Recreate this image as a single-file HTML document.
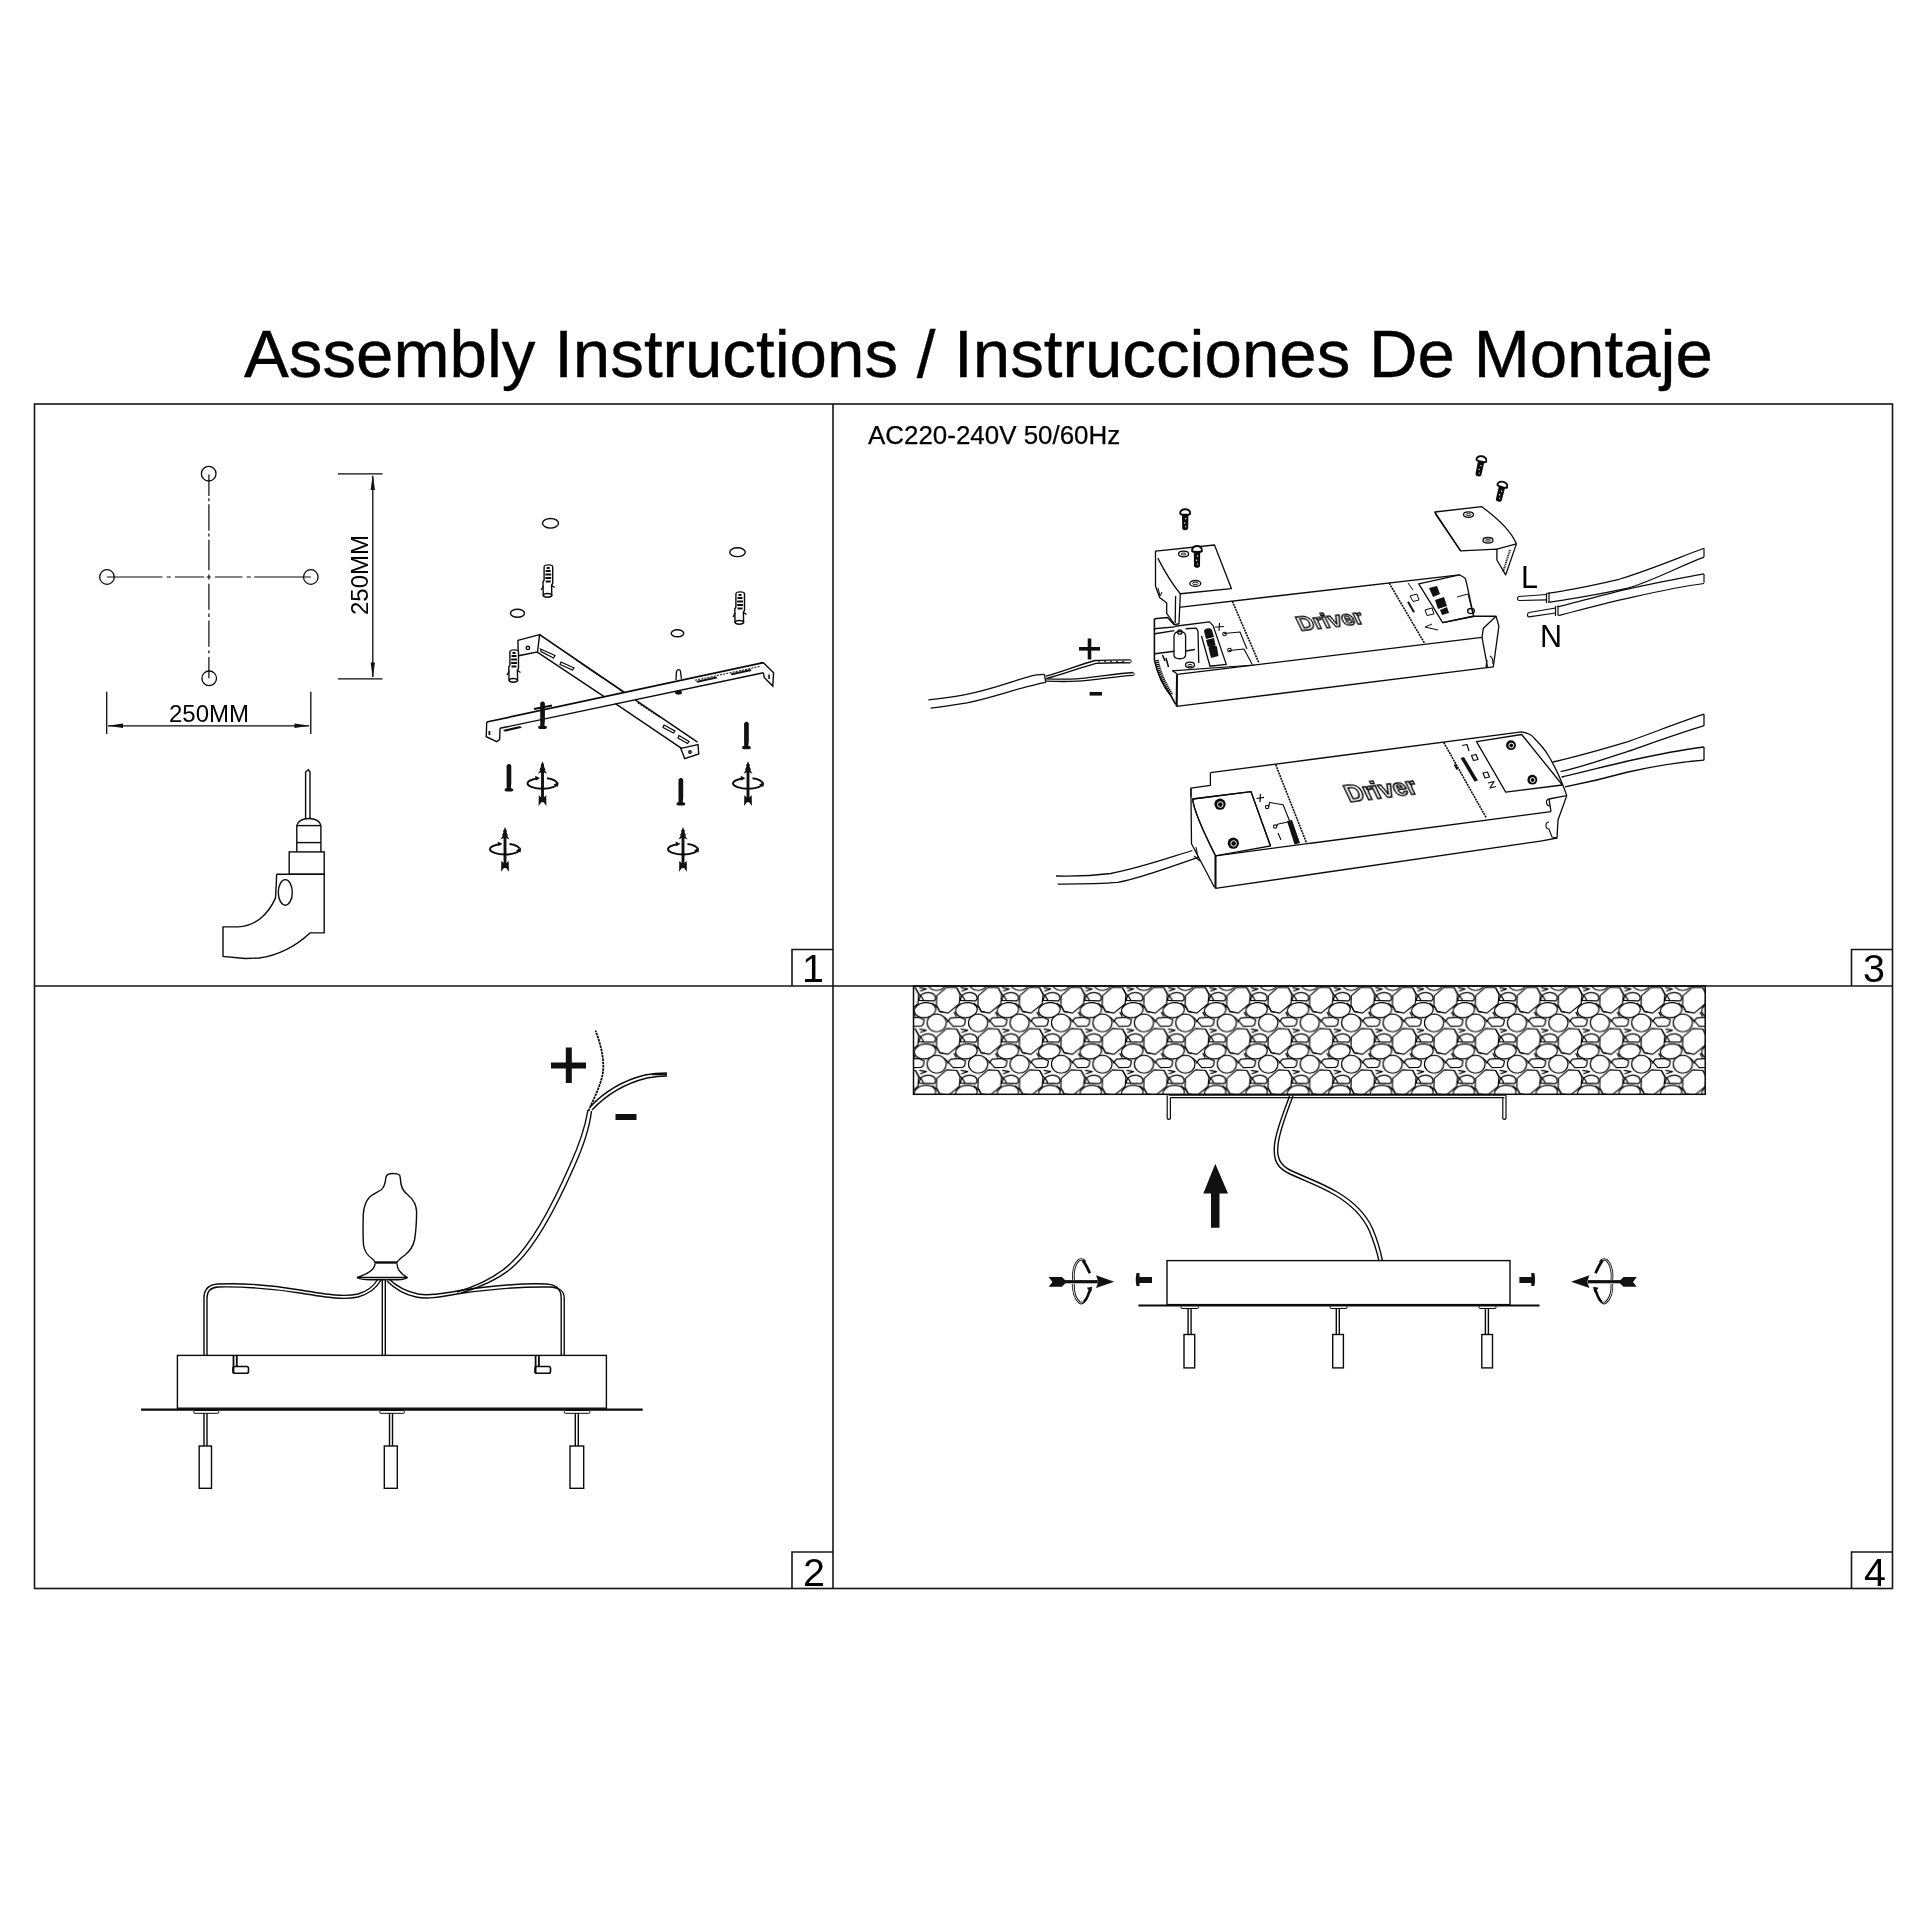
<!DOCTYPE html>
<html><head><meta charset="utf-8">
<style>
html,body{margin:0;padding:0;background:#fff;}
body{width:1920px;height:1920px;position:relative;overflow:hidden;font-family:"Liberation Sans",sans-serif;color:#000;}
.t{position:absolute;white-space:nowrap;line-height:1;will-change:transform;}
svg text{will-change:transform;}
svg{position:absolute;left:0;top:0;}
</style></head><body>
<svg width="1920" height="1920" viewBox="0 0 1920 1920">
<defs>
<g id="screwV">
<path d="M-0.6,-27.4 L0.9,-27.4 L2.4,-26 L2.4,-8 L1.9,-3.4 L4.2,-2.6 L4.4,-0.8 L2.5,0 L-2.5,0 L-4.3,-0.8 L-4.1,-2.7 L-2.2,-3.4 L-2.3,-8 L-2.3,-26 Z" fill="#111"/>
</g>
<g id="rotV">
<rect x="-1.45" y="-19" width="2.9" height="38" fill="#111"/>
<path d="M0,-22 L1.8,-17.5 L1.2,-17 L3.2,-13.5 L2,-13.5 L4.6,-9.5 L0,-11.5 L-4.6,-9.5 L-2,-13.5 L-3.2,-13.5 L-1.2,-17 L-1.8,-17.5 Z" fill="#111"/>
<path d="M-3.7,12 L-1.4,14 L1.4,14 L3.7,12 L3.9,22.7 L0,17.5 L-3.9,22.7 Z" fill="#111"/>
<path d="M-5,-5 C-10,-4 -15,-2.5 -15,0 C-15,3 -8,5.5 0,5.5 C8,5.5 15,3 15,0.3" fill="none" stroke="#0a0a0a" stroke-width="2"/>
<path d="M4.5,-5 C9,-4.5 13,-3 14.5,-0.5" fill="none" stroke="#0a0a0a" stroke-width="2"/>
<path d="M-7.5,-7.5 L-2.5,-5.3 L-6.5,-2.8 Z" fill="#111"/>
<path d="M11,1.5 L16,-1.5 L15.5,3.5 Z" fill="#111"/>
</g>
<g id="plug">
<path d="M-4.1,2 C-4.1,-0.8 4.5,-0.8 4.5,2 L4.5,18.5 L3.4,20 L3.6,30.5 L-5,30 L-5.2,17 L-4.1,15 Z" fill="#fff" stroke="#0a0a0a" stroke-width="1.4"/>
<path d="M-1.5,3 L1.5,3 M-2.5,6 L2.5,6 M-2.8,9.5 L3,9.5 M-2.8,13 L3,13 M-2.5,16.5 L2.5,16.5" stroke="#0a0a0a" stroke-width="2.2"/>
<path d="M-7,25 L-4.8,21 M6.5,22.5 L3.6,20.5" fill="none" stroke="#0a0a0a" stroke-width="1.3"/>
<ellipse cx="-0.7" cy="30.3" rx="4.1" ry="1.9" fill="#fff" stroke="#0a0a0a" stroke-width="1.5"/>
</g>
<g id="rotH">
<rect x="-17" y="-1.6" width="33" height="3.2" fill="#111"/>
<path d="M-33.1,-4.7 L-19.9,-4.7 L-16.3,-1.1 L-16.3,1.5 L-19.9,5.1 L-33.1,5.1 L-29.4,0.2 Z" fill="#111"/>
<path d="M14.2,-6.4 L32.5,0 L14.2,6.4 L16.5,0 Z" fill="#111"/>
<path d="M-8.2,-1.5 C-9,-8 -8,-17 -3,-21.5 C0,-23 2,-22 3.5,-19.5" fill="none" stroke="#0a0a0a" stroke-width="2.6"/>
<path d="M-8.2,-1.5 C-9,-8 -8,-17 -3,-21.5 C0,-23 2,-22 3.5,-19.5" fill="none" stroke="#fff" stroke-width="0.9"/>
<path d="M1,-21 C4,-18 6,-13 8,-8.5" fill="none" stroke="#0a0a0a" stroke-width="2.8"/>
<path d="M-8.2,2.5 C-9,9 -7,17 -2,21 C1,22.5 4,19 6,14 C7,11 8,9 9,7" fill="none" stroke="#0a0a0a" stroke-width="2.6"/>
<path d="M-8.2,2.5 C-9,9 -7,17 -2,21 C-0.5,21.8 0.5,21 1.5,19.5" fill="none" stroke="#fff" stroke-width="0.9"/>
<path d="M5,6 L10.5,5 L9,11 Z" fill="#111"/>
</g>
<pattern id="stone" patternUnits="userSpaceOnUse" x="927.60" y="979.45" width="41.45" height="41.3">
<g fill="none" stroke="#000" stroke-width="1.2" stroke-linejoin="round">
<polygon points="-22.20,-33.55 -12.30,-32.95 -8.90,-26.25 -9.70,-17.05 -20.90,-7.75 -29.20,-9.25 -32.60,-15.80 -32.30,-24.95"/>
<polygon points="-20.65,0.20 -18.45,-2.90 -8.80,-3.50 -3.45,-1.00 -4.45,3.70 -6.30,5.20 -15.95,5.50"/>
<ellipse cx="-32.35" cy="2.15" rx="9.6" ry="8.9"/>
<ellipse cx="-2.60" cy="-10.65" rx="10.8" ry="7.4" transform="rotate(-8 -2.60 -10.65)"/>
<path d="M-8.45,-20.25 C-8.45,-26.05 -3.45,-28.55 1.55,-28.05 C5.55,-27.55 8.05,-25.05 8.05,-22.05 L6.55,-19.85 Z"/>
<polyline points="-12.30,-32.95 -8.45,-26.25 -6.25,-24.40 -3.70,-19.75"/>
<polyline points="-8.35,-33.05 -1.25,-31.85 -7.55,-29.45"/>
<polyline points="-15.10,-8.75 -12.50,-4.25"/>
<polyline points="4.65,-17.65 9.85,-13.20 11.95,-9.30 15.60,-8.75"/>
<polyline points="-24.75,-3.65 -21.95,-1.15 -20.75,1.35"/>
<polygon points="-22.20,7.75 -12.30,8.35 -8.90,15.05 -9.70,24.25 -20.90,33.55 -29.20,32.05 -32.60,25.50 -32.30,16.35"/>
<polygon points="-20.65,41.50 -18.45,38.40 -8.80,37.80 -3.45,40.30 -4.45,45.00 -6.30,46.50 -15.95,46.80"/>
<ellipse cx="-32.35" cy="43.45" rx="9.6" ry="8.9"/>
<ellipse cx="-2.60" cy="30.65" rx="10.8" ry="7.4" transform="rotate(-8 -2.60 30.65)"/>
<path d="M-8.45,21.05 C-8.45,15.25 -3.45,12.75 1.55,13.25 C5.55,13.75 8.05,16.25 8.05,19.25 L6.55,21.45 Z"/>
<polyline points="-12.30,8.35 -8.45,15.05 -6.25,16.90 -3.70,21.55"/>
<polyline points="-8.35,8.25 -1.25,9.45 -7.55,11.85"/>
<polyline points="-15.10,32.55 -12.50,37.05"/>
<polyline points="4.65,23.65 9.85,28.10 11.95,32.00 15.60,32.55"/>
<polyline points="-24.75,37.65 -21.95,40.15 -20.75,42.65"/>
<polygon points="-22.20,49.05 -12.30,49.65 -8.90,56.35 -9.70,65.55 -20.90,74.85 -29.20,73.35 -32.60,66.80 -32.30,57.65"/>
<polygon points="-20.65,82.80 -18.45,79.70 -8.80,79.10 -3.45,81.60 -4.45,86.30 -6.30,87.80 -15.95,88.10"/>
<ellipse cx="-32.35" cy="84.75" rx="9.6" ry="8.9"/>
<ellipse cx="-2.60" cy="71.95" rx="10.8" ry="7.4" transform="rotate(-8 -2.60 71.95)"/>
<path d="M-8.45,62.35 C-8.45,56.55 -3.45,54.05 1.55,54.55 C5.55,55.05 8.05,57.55 8.05,60.55 L6.55,62.75 Z"/>
<polyline points="-12.30,49.65 -8.45,56.35 -6.25,58.20 -3.70,62.85"/>
<polyline points="-8.35,49.55 -1.25,50.75 -7.55,53.15"/>
<polyline points="-15.10,73.85 -12.50,78.35"/>
<polyline points="4.65,64.95 9.85,69.40 11.95,73.30 15.60,73.85"/>
<polyline points="-24.75,78.95 -21.95,81.45 -20.75,83.95"/>
<polygon points="19.25,-33.55 29.15,-32.95 32.55,-26.25 31.75,-17.05 20.55,-7.75 12.25,-9.25 8.85,-15.80 9.15,-24.95"/>
<polygon points="20.80,0.20 23.00,-2.90 32.65,-3.50 38.00,-1.00 37.00,3.70 35.15,5.20 25.50,5.50"/>
<ellipse cx="9.10" cy="2.15" rx="9.6" ry="8.9"/>
<ellipse cx="38.85" cy="-10.65" rx="10.8" ry="7.4" transform="rotate(-8 38.85 -10.65)"/>
<path d="M33.00,-20.25 C33.00,-26.05 38.00,-28.55 43.00,-28.05 C47.00,-27.55 49.50,-25.05 49.50,-22.05 L48.00,-19.85 Z"/>
<polyline points="29.15,-32.95 33.00,-26.25 35.20,-24.40 37.75,-19.75"/>
<polyline points="33.10,-33.05 40.20,-31.85 33.90,-29.45"/>
<polyline points="26.35,-8.75 28.95,-4.25"/>
<polyline points="46.10,-17.65 51.30,-13.20 53.40,-9.30 57.05,-8.75"/>
<polyline points="16.70,-3.65 19.50,-1.15 20.70,1.35"/>
<polygon points="19.25,7.75 29.15,8.35 32.55,15.05 31.75,24.25 20.55,33.55 12.25,32.05 8.85,25.50 9.15,16.35"/>
<polygon points="20.80,41.50 23.00,38.40 32.65,37.80 38.00,40.30 37.00,45.00 35.15,46.50 25.50,46.80"/>
<ellipse cx="9.10" cy="43.45" rx="9.6" ry="8.9"/>
<ellipse cx="38.85" cy="30.65" rx="10.8" ry="7.4" transform="rotate(-8 38.85 30.65)"/>
<path d="M33.00,21.05 C33.00,15.25 38.00,12.75 43.00,13.25 C47.00,13.75 49.50,16.25 49.50,19.25 L48.00,21.45 Z"/>
<polyline points="29.15,8.35 33.00,15.05 35.20,16.90 37.75,21.55"/>
<polyline points="33.10,8.25 40.20,9.45 33.90,11.85"/>
<polyline points="26.35,32.55 28.95,37.05"/>
<polyline points="46.10,23.65 51.30,28.10 53.40,32.00 57.05,32.55"/>
<polyline points="16.70,37.65 19.50,40.15 20.70,42.65"/>
<polygon points="19.25,49.05 29.15,49.65 32.55,56.35 31.75,65.55 20.55,74.85 12.25,73.35 8.85,66.80 9.15,57.65"/>
<polygon points="20.80,82.80 23.00,79.70 32.65,79.10 38.00,81.60 37.00,86.30 35.15,87.80 25.50,88.10"/>
<ellipse cx="9.10" cy="84.75" rx="9.6" ry="8.9"/>
<ellipse cx="38.85" cy="71.95" rx="10.8" ry="7.4" transform="rotate(-8 38.85 71.95)"/>
<path d="M33.00,62.35 C33.00,56.55 38.00,54.05 43.00,54.55 C47.00,55.05 49.50,57.55 49.50,60.55 L48.00,62.75 Z"/>
<polyline points="29.15,49.65 33.00,56.35 35.20,58.20 37.75,62.85"/>
<polyline points="33.10,49.55 40.20,50.75 33.90,53.15"/>
<polyline points="26.35,73.85 28.95,78.35"/>
<polyline points="46.10,64.95 51.30,69.40 53.40,73.30 57.05,73.85"/>
<polyline points="16.70,78.95 19.50,81.45 20.70,83.95"/>
<polygon points="60.70,-33.55 70.60,-32.95 74.00,-26.25 73.20,-17.05 62.00,-7.75 53.70,-9.25 50.30,-15.80 50.60,-24.95"/>
<polygon points="62.25,0.20 64.45,-2.90 74.10,-3.50 79.45,-1.00 78.45,3.70 76.60,5.20 66.95,5.50"/>
<ellipse cx="50.55" cy="2.15" rx="9.6" ry="8.9"/>
<ellipse cx="80.30" cy="-10.65" rx="10.8" ry="7.4" transform="rotate(-8 80.30 -10.65)"/>
<path d="M74.45,-20.25 C74.45,-26.05 79.45,-28.55 84.45,-28.05 C88.45,-27.55 90.95,-25.05 90.95,-22.05 L89.45,-19.85 Z"/>
<polyline points="70.60,-32.95 74.45,-26.25 76.65,-24.40 79.20,-19.75"/>
<polyline points="74.55,-33.05 81.65,-31.85 75.35,-29.45"/>
<polyline points="67.80,-8.75 70.40,-4.25"/>
<polyline points="87.55,-17.65 92.75,-13.20 94.85,-9.30 98.50,-8.75"/>
<polyline points="58.15,-3.65 60.95,-1.15 62.15,1.35"/>
<polygon points="60.70,7.75 70.60,8.35 74.00,15.05 73.20,24.25 62.00,33.55 53.70,32.05 50.30,25.50 50.60,16.35"/>
<polygon points="62.25,41.50 64.45,38.40 74.10,37.80 79.45,40.30 78.45,45.00 76.60,46.50 66.95,46.80"/>
<ellipse cx="50.55" cy="43.45" rx="9.6" ry="8.9"/>
<ellipse cx="80.30" cy="30.65" rx="10.8" ry="7.4" transform="rotate(-8 80.30 30.65)"/>
<path d="M74.45,21.05 C74.45,15.25 79.45,12.75 84.45,13.25 C88.45,13.75 90.95,16.25 90.95,19.25 L89.45,21.45 Z"/>
<polyline points="70.60,8.35 74.45,15.05 76.65,16.90 79.20,21.55"/>
<polyline points="74.55,8.25 81.65,9.45 75.35,11.85"/>
<polyline points="67.80,32.55 70.40,37.05"/>
<polyline points="87.55,23.65 92.75,28.10 94.85,32.00 98.50,32.55"/>
<polyline points="58.15,37.65 60.95,40.15 62.15,42.65"/>
<polygon points="60.70,49.05 70.60,49.65 74.00,56.35 73.20,65.55 62.00,74.85 53.70,73.35 50.30,66.80 50.60,57.65"/>
<polygon points="62.25,82.80 64.45,79.70 74.10,79.10 79.45,81.60 78.45,86.30 76.60,87.80 66.95,88.10"/>
<ellipse cx="50.55" cy="84.75" rx="9.6" ry="8.9"/>
<ellipse cx="80.30" cy="71.95" rx="10.8" ry="7.4" transform="rotate(-8 80.30 71.95)"/>
<path d="M74.45,62.35 C74.45,56.55 79.45,54.05 84.45,54.55 C88.45,55.05 90.95,57.55 90.95,60.55 L89.45,62.75 Z"/>
<polyline points="70.60,49.65 74.45,56.35 76.65,58.20 79.20,62.85"/>
<polyline points="74.55,49.55 81.65,50.75 75.35,53.15"/>
<polyline points="67.80,73.85 70.40,78.35"/>
<polyline points="87.55,64.95 92.75,69.40 94.85,73.30 98.50,73.85"/>
<polyline points="58.15,78.95 60.95,81.45 62.15,83.95"/>
</g></pattern>
<g id="screwT">
<path d="M-3.2,2 L3.2,2 L3,15 C3,17.5 -3,17.5 -3,15 Z" fill="#0a0a0a"/>
<circle cx="0.6" cy="6" r="0.7" fill="#fff"/><circle cx="-0.4" cy="10" r="0.7" fill="#fff"/><circle cx="0.5" cy="13.5" r="0.6" fill="#fff"/>
<path d="M-5,1.2 C-5.5,-2.2 -2,-3.2 0,-3.2 C2,-3.2 5.5,-2.2 5,1.2 C4,2.6 -4,2.6 -5,1.2 Z" fill="#fff" stroke="#0a0a0a" stroke-width="1.9"/>
</g>
</defs>
<g fill="none" stroke="#151515" stroke-width="1.6">
<rect x="34.5" y="404" width="1858" height="1184.5"/>
<line x1="833" y1="404" x2="833" y2="1588.5"/>
<line x1="34.5" y1="986" x2="1892.5" y2="986"/>
<polyline points="792,986 792,949.5 833,949.5"/>
<polyline points="1851.5,986 1851.5,949.5 1892.5,949.5"/>
<polyline points="792,1588.5 792,1552 833,1552"/>
<polyline points="1851.5,1588.5 1851.5,1552 1892.5,1552"/>
</g>
<g fill="none" stroke="#0a0a0a" stroke-width="1.3">
<circle cx="208.7" cy="473.7" r="7.3"/>
<circle cx="107" cy="577" r="7.3"/>
<circle cx="310.8" cy="577" r="7.3"/>
<circle cx="209.2" cy="678.3" r="7.3"/>
<path stroke-width="1.2" d="M107,577H162.5M166.7,577H170.8M175,577H204.2M206.7,577H210.8M215,577H242.5M246.7,577H250.8M254.2,577H310.8"/>
<path stroke-width="1.2" d="M208.9,474.4V495.9M208.9,498.3V501.3M208.9,504.3V530.7M208.9,533.6V536.6M208.9,539.7V570.2M208.9,574.5V579.5M208.9,583.8V609.7M208.9,613.4V616.9M208.9,620.5V646.8M208.9,650.5V653.3M208.9,656.9V678.3"/>
<line x1="338" y1="473.8" x2="382.5" y2="473.8"/>
<line x1="338" y1="678.8" x2="382.5" y2="678.8"/>
<line x1="372.8" y1="476" x2="372.8" y2="677"/>
<line x1="106.7" y1="691.7" x2="106.7" y2="734"/>
<line x1="310.8" y1="691.7" x2="310.8" y2="734"/>
<line x1="108" y1="725.8" x2="309" y2="725.8"/>
</g>
<g fill="#111">
<path d="M372.8,474.5 L375,490 L370.6,490 Z"/>
<path d="M372.8,678 L375,662.5 L370.6,662.5 Z"/>
<path d="M107.5,725.8 L123,723.6 L123,728 Z"/>
<path d="M310,725.8 L294.5,723.6 L294.5,728 Z"/>
</g>
<g fill="none" stroke="#0a0a0a" stroke-width="1.4">
<path d="M305.6,818.5 L305.6,772 L308.3,769.8 L310,772 L310,818.5"/>
<path d="M296.8,851.9 L296.8,825.6 C298,821 303,818.5 308.9,818.5 C314.8,818.5 319.8,821 320.9,825.6 L320.9,851.9"/>
<line x1="296.8" y1="825.6" x2="320.9" y2="825.6"/>
<line x1="296.8" y1="842.6" x2="320.9" y2="842.6"/>
<rect x="289.2" y="851.9" width="35" height="22.4"/>
<path d="M276.6,874.3 L324.2,874.3 L324.2,932.9 L310,932.9 C297,945 280,955 259,958 L245,958.5 L223,956.4 L223,926.9 L238.3,926.9 C255,926 268,915 275.5,897.9 C276,890 276.5,882 276.6,874.3"/>
<ellipse cx="285.3" cy="892.4" rx="7" ry="12.8"/>
</g>
<g fill="none" stroke="#0a0a0a" stroke-width="1.4">
<ellipse cx="550.5" cy="523.3" rx="8" ry="4.8"/>
<ellipse cx="737.5" cy="552.2" rx="7.8" ry="4.4"/>
<ellipse cx="517.5" cy="613.3" rx="7" ry="4"/>
<ellipse cx="677.5" cy="633.3" rx="6.3" ry="3.5"/>
<!-- bracket A -->
<path d="M517.9,640.4 L539.6,634.6 L537.5,652 L518.3,655.8 Z"/>
<circle cx="527.9" cy="647.9" r="1.7"/>
<path d="M539.6,634.6 L624.5,692.5" stroke-width="1.7"/>
<path d="M537.3,652.1 L604.5,696.8"/>
<path d="M575.8,660 L602.5,678.3" stroke-width="1" stroke-dasharray="2 1"/>
<path d="M635.2,699.8 L697.5,742.2" stroke-width="1.5"/>
<path d="M615.4,703.7 L681.6,748.4"/>
<path d="M637.8,703.1 L659.7,717.2" stroke-width="1" stroke-dasharray="2 1"/>
<path d="M680.8,748.4 L698,744.5 L698.75,753.9 L684.7,758.6 Z"/>
<circle cx="690" cy="752" r="1.2"/>
<path d="M540.5,649 L555,655.5 L553.5,658 L541,651.5 Z" stroke-width="1.2"/>
<path d="M561,662 L574,668 L572.5,670 L560,664.5 Z" stroke-width="1.2"/>
<path d="M664,725 L675,731 L673.5,733 L663,727.5 Z" stroke-width="1.2"/>
<path d="M679,735.5 L689,741.5 L687.5,743.5 L678,738 Z" stroke-width="1.2"/>
<!-- bracket B -->
<path d="M486.7,722 L763.4,662.7" stroke-width="1.7"/>
<path d="M500,728.3 L763.4,672.8"/>
<path d="M695,680.2 L760,666.4" stroke-width="1" stroke-dasharray="2 1.2"/>
<path d="M486.7,722 L486.25,736.7 L496.7,741.7 L499.6,739.6 L500,728.3"/>
<path d="M760.3,662.7 L763.4,662.7 L773.6,672.8 L772.8,686.1 L764.2,677.5 L763.4,672.8"/>
</g>
<g fill="#111">
<rect x="488.5" y="731" width="1.8" height="4"/>
<rect x="768.3" y="674.5" width="1.6" height="4.5"/>
<path d="M503,730 L520,726 L522,727.7 L505,731.8 Z"/>
<path d="M696,681 L716,676.5 L717.5,678.3 L697.5,682.8 Z"/>
<path d="M730.5,673.5 L750.5,669 L751.5,671 L731.5,675.3 Z"/>
</g>
<use href="#plug" x="548.2" y="565"/>
<use href="#plug" x="740" y="592"/>
<use href="#plug" x="514" y="650"/>
<g fill="none" stroke="#0a0a0a" stroke-width="1.3">
<path d="M676,680 L676.5,671.5 C677.5,669 680,669 680.5,671.5 L681.4,679"/>
</g>
<ellipse cx="678.5" cy="692.5" rx="3.5" ry="2" fill="#111"/>
<use href="#screwV" x="508.9" y="791.5"/>
<use href="#screwV" x="680.8" y="805.5"/>
<use href="#screwV" x="746.4" y="749.2"/>
<use href="#screwV" x="542.5" y="729"/>
<path d="M534,709 L552,705.5" stroke="#0a0a0a" stroke-width="2"/>
<use href="#rotV" x="542.5" y="783.2"/>
<use href="#rotV" x="748" y="783.2"/>
<use href="#rotV" x="505" y="849"/>
<use href="#rotV" x="683" y="849"/>
<g fill="none" stroke="#0a0a0a" stroke-width="1.4">
<rect x="177.4" y="1355.4" width="429" height="52.8"/>
<path d="M233.5,1356 V1373 M236.8,1356 V1366.5" stroke-width="1.8"/>
<rect x="233" y="1366.5" width="15.5" height="6.8" rx="1.8" stroke-width="1.6"/>
<path d="M535.6,1356 V1373 M538.9,1356 V1366.5" stroke-width="1.8"/>
<rect x="535" y="1366.5" width="15.5" height="6.8" rx="1.8" stroke-width="1.6"/>
<!-- rods under -->
<path d="M204,1412.7 V1446 M207,1412.7 V1446"/>
<path d="M389.5,1412.7 V1446 M392.5,1412.7 V1446"/>
<path d="M575.3,1412.7 V1446 M578.3,1412.7 V1446"/>
<rect x="199.2" y="1446" width="12.3" height="42.3"/>
<rect x="384.3" y="1446" width="13" height="42.3"/>
<rect x="570" y="1446" width="13.7" height="42.3"/>
<!-- verticals up from box -->
<path d="M204,1355.4 V1298 C204,1289 209,1284.5 218,1284 C240,1283 270,1285 300,1290 C330,1295 345,1297 358,1294 C368,1291 374,1286 378,1279"/>
<path d="M207,1355.4 V1298 C207,1291 211,1287.5 218,1287 C240,1286.5 270,1288.5 300,1293 C330,1298 345,1300 358,1297 C369,1294 376,1289 381,1280"/>
<path d="M561.2,1355.4 V1298 C561.2,1289 556,1284.5 546,1284 C520,1283 490,1286 460,1290.5 C440,1294 428,1296 418,1294 C405,1291 396,1286 389,1279"/>
<path d="M564.2,1355.4 V1298 C564.2,1291 560,1287.5 549,1287 C520,1286.5 492,1289 460,1293.5 C440,1297 428,1299.5 416,1297 C404,1294.5 395,1289 387,1281"/>
<path d="M382.3,1279.8 V1355.4 M385.3,1279.8 V1355.4"/>
<!-- canopy -->
<path d="M393,1173.5 C389,1173.5 386.5,1174.5 386,1177 C385.5,1182 385,1187 381,1190 C376,1193 371,1195 369.2,1197.5 C366,1201 364,1207 363.3,1214 C363,1224 363,1238 363.5,1245 C364.5,1251 368,1256 372,1258.5 C374,1260 375,1261.5 375,1262.5 L397,1262.5 C398,1260 401,1258 405,1255 C410,1251 413,1247 414.5,1240 C416,1232 416.5,1222 416.6,1212 C416.5,1205 414,1200 408,1195 C404,1192 402,1189 401,1184 C400.5,1180 400.3,1176 399.5,1175 C398,1173.8 396,1173.5 393,1173.5 Z"/>
<path d="M375,1262.5 L397,1262.5" stroke-width="2.2"/>
<path d="M375,1263.5 C375,1269 368,1274 357,1277.5 L407.5,1277.5 C401,1274 397,1269 397,1263.5"/>
<path d="M357,1277.5 C360,1279.5 364,1279.8 370,1279.8 L398,1279.8 C403,1279.8 405.5,1279 407.5,1277.5"/>
<!-- cable -->
<path d="M457,1292 C480,1285 498,1276 512,1262 C530,1245 548,1215 570,1165 C580,1143 586,1122 588,1110"/>
<path d="M461,1293 C484,1286 502,1278 516,1264 C534,1247 552,1217 574,1167 C584,1145 590,1124 591.5,1111"/>
<path d="M588.5,1111 C594,1098 601,1085 603,1072 C604.5,1058 600,1042 595.5,1030.6" stroke-width="1.8" stroke-dasharray="2.5 0.8"/>
<path d="M590,1107 C605,1091 625,1080 645,1075 C655,1073 660,1073 667,1073"/>
<path d="M592,1110 C607,1094 627,1083 647,1078 C657,1076 660,1076 667,1076"/>
<path d="M652,1074.5 H667"/>
</g>
<path d="M141.1,1409.7 H642.7" stroke="#0a0a0a" stroke-width="2.2"/>
<g fill="#fff" stroke="#0a0a0a" stroke-width="1">
<rect x="193.8" y="1410.5" width="25" height="2.8" rx="1"/>
<rect x="379.8" y="1410.5" width="24.5" height="2.8" rx="1"/>
<rect x="564.3" y="1410.5" width="25.5" height="2.8" rx="1"/>
</g>
<g fill="#111">
<rect x="551" y="1062.5" width="35" height="6"/>
<rect x="565.8" y="1047.5" width="6" height="35.5"/>
<rect x="615.5" y="1114" width="21" height="6"/>
</g>
<!-- ===== Panel 3 ===== -->
<g fill="none" stroke="#0a0a0a" stroke-width="1.3" stroke-linejoin="round">
<!-- left cable (upper driver) -->
<path d="M928.4,699.9 C940,698.5 952,697 964.2,694.8 C990,690 1010,682 1031.3,675.8 C1036,674.8 1040,674.6 1044.4,674.4"/>
<path d="M930.6,708.2 C942,706.8 954,705 967.1,702.8 C995,697 1015,689 1035.6,684.6 C1039,683.6 1042,683 1045.8,682.4"/>
<path d="M1044.4,674.4 L1045.8,682.4"/>
<path d="M1045.8,676.2 C1062,672 1080,664.5 1095,660.5 C1105,659.8 1118,659.8 1130.4,659.8"/>
<path d="M1045.8,678.6 C1062,675 1080,667.5 1096,663.3 C1106,662.7 1118,662.7 1130.4,662.8"/>
<path d="M1130.4,659.8 C1131.5,660.5 1131.5,662.2 1130.4,662.8" stroke-width="1"/>
<path d="M1046,678.8 C1060,679.2 1075,679.5 1086.7,677.8 C1100,676.5 1118,673.5 1133.3,672.5"/>
<path d="M1046,681.2 C1060,681.6 1075,682 1087,680.4 C1100,679.2 1118,676.2 1133.3,675.4"/>
<path d="M1133.3,672.5 C1134.5,673.3 1134.5,674.8 1133.3,675.4" stroke-width="1"/>
<path d="M1098,661.5 L1100,662 M1104,661.2 L1106,661.7 M1110,661.2 L1112,661.6 M1116,661.2 L1118,661.6 M1122,661.2 L1124,661.6" stroke-width="0.9"/>
</g>
<g fill="#111">
<rect x="1079" y="647" width="21" height="3.6"/>
<rect x="1087.7" y="638.5" width="3.6" height="21"/>
<rect x="1089.6" y="692" width="12.4" height="3.6"/>
</g>

<!-- upper driver box -->
<g fill="none" stroke="#0a0a0a" stroke-width="1.3" stroke-linejoin="round">
<!-- front face -->
<path d="M1177,674.4 L1482,637.3 M1176.6,706.4 L1487,667.6 M1177,674.4 L1176.6,706.4"/>
<path d="M1177,674.4 L1176.6,706.4" stroke-width="2"/>
<!-- back edge -->
<path d="M1178.9,607.3 L1459.5,574.8"/>
<!-- dividers -->
<path d="M1232.3,601.25 L1258.6,662.2" stroke-width="1.6" stroke-dasharray="2 0.8"/>
<path d="M1389.2,583.2 L1424.4,643" stroke-width="1.6" stroke-dasharray="2 0.8"/>
<!-- left end -->
<path d="M1154.4,618.75 L1167.5,617.5 L1174.4,625"/>
<path d="M1154.4,618.75 L1154.4,660 C1157,672 1163,686 1171.25,696.25 L1175.6,704.4" stroke-width="1.6"/>
<path d="M1157,660 C1159.5,672 1164.5,684 1172,695" stroke-width="3.4" stroke-dasharray="1.3 0.7"/>
<path d="M1153.75,628.75 L1175,626.9 M1155,633.75 L1174.4,630.6"/>
<path d="M1175,626.25 L1209.4,621.9 L1213.1,625.6 L1226.25,664.4 L1210,666.25 L1201.5,636"/>
<path d="M1185.6,628.75 L1196.25,628.1 L1198,631.25 L1198.75,663"/>
<path d="M1174,636 C1174,630 1185.6,630 1185.6,636 L1185.6,655 C1185.6,660 1174,660 1174,655 Z"/>
<circle cx="1179.8" cy="632" r="2.2"/>
<path d="M1155,653.75 L1174.4,651.25 M1185.6,651 L1195,649.5"/>
<path d="M1162.5,655 L1165,661 M1166,658 L1168.5,667" stroke-width="1.5"/>
<ellipse cx="1190" cy="665" rx="4.5" ry="2.8"/>
<ellipse cx="1190" cy="665.5" rx="2" ry="1.2" stroke-width="1"/>
<path d="M1171.9,670.9 L1254.4,665" stroke-width="1.1"/>
<path d="M1173,671 L1176.9,673.75"/>
<!-- labels small -->
<path d="M1215,627 L1224,626.5 M1219.5,623 L1219,631" stroke-width="1.1"/>
<path d="M1224,633.5 L1240,632 L1247,649 M1229,650.5 L1244,649 L1252,664" stroke-width="1.1"/>
<circle cx="1224.5" cy="634" r="1.8" stroke-width="1.1"/>
<circle cx="1229.5" cy="650" r="1.8" stroke-width="1.1"/>
<!-- right terminal block -->
<path d="M1418.75,583.9 L1459.5,574.8 L1465.2,578.3 L1466.6,583.2 L1473.6,616.25 L1442.7,622.6 Z"/>
<path d="M1442.7,622.6 L1473.6,616.25 L1496.1,616.25 L1498.9,626.1 L1493.3,666.9 L1487.6,667.6 L1482,637.3 L1483.4,628.2 L1496.1,616.25"/>
<path d="M1487,660 L1486,667 M1490,656 C1492,657 1493,660 1493,664" stroke-width="1.2"/>
<path d="M1457,597 L1468,594 L1473,614" stroke-width="1"/>
<ellipse cx="1471" cy="611" rx="3.4" ry="2.5"/>
<path d="M1408,583 L1413,590 M1410,596 L1417,594 L1419,600 L1413,601.5 Z M1425,610 L1432,608 L1434,614 L1427,615.5 Z M1432,624 L1425,627 L1438,630" stroke-width="1"/>
</g>
<g fill="#111">
<path d="M1429,588 L1437,586 L1440,594 L1433,597 Z"/>
<path d="M1435,600 L1444,597 L1447,606 L1438,609 Z"/>
<path d="M1440,610 L1447,607 L1449,613 L1442,615 Z"/>
<path d="M1204,631 C1204,628 1211,627 1212,630 L1214,637 L1206,639 Z"/>
<path d="M1206,640 L1214,638 L1215.5,645 L1208,647 Z"/>
<path d="M1208.5,648 C1209,645 1216,644 1217,647 L1218.5,656 L1211,658 Z"/>
<rect x="1410" y="601" width="2" height="12" transform="rotate(-30 1411 607)"/>
</g>
<text x="0" y="0" transform="translate(1300.5,631) rotate(-6.5) scale(1.08,1) skewX(18)" font-family="Liberation Sans" font-weight="bold" font-size="21" fill="#fff" stroke="#000" stroke-width="1.25">Driver</text>

<!-- left cover on upper driver -->
<g fill="#fff" stroke="#0a0a0a" stroke-width="1.3" stroke-linejoin="round">
<path d="M1155.5,551.1 L1214.5,545 L1231.4,588.6 L1180.3,593.75 L1179,623.75 L1174.7,624.7 L1166.7,613.4 L1166.7,603.1 L1159.7,597.5 L1155.5,586.25 Z"/>
<path d="M1157.8,558.1 C1165,572 1172,584 1180.3,593.75" fill="none"/>
<path d="M1175.6,596 L1175.2,623" fill="none"/>
<path d="M1158,588 L1160,596 L1162,592" fill="none" stroke-width="1"/>
<ellipse cx="1183.6" cy="554" rx="5" ry="2.8"/>
<ellipse cx="1183.6" cy="554" rx="2.5" ry="1" fill="none" stroke-width="0.9"/>
<ellipse cx="1195.3" cy="583.4" rx="5.5" ry="2.9"/>
<ellipse cx="1195.3" cy="583.4" rx="3" ry="1.1" fill="none" stroke-width="0.9"/>
</g>
<!-- screws upper -->
<use href="#screwT" transform="translate(1185.2,512.5) scale(1,1.05)"/>
<use href="#screwT" transform="translate(1481.6,459.5) rotate(12) scale(1,1.02)"/>
<use href="#screwT" transform="translate(1502.5,485) rotate(14) scale(1,1.02)"/>
<use href="#screwT" transform="translate(1197,549.5) scale(1,1.08)"/>
<!-- right detached cover -->
<g fill="#fff" stroke="#0a0a0a" stroke-width="1.3" stroke-linejoin="round">
<path d="M1434.9,512 L1481.8,506.7 C1500,520 1512,533 1516.4,543.9 L1505.7,574.8 L1496.9,560 L1496.9,549.2 L1460.6,550.9 Z"/>
<path d="M1434.9,512 L1436,515 L1460.6,550.9" fill="none"/>
<path d="M1496.9,549.2 L1516.4,543.9" fill="none"/>
<path d="M1510,550 L1503,572" fill="none" stroke-width="2" stroke-dasharray="1 0.8"/>
<ellipse cx="1468.5" cy="514.6" rx="5" ry="2.8"/>
<ellipse cx="1468.5" cy="514.6" rx="2.5" ry="1" fill="none" stroke-width="0.9"/>
<ellipse cx="1488" cy="540.3" rx="5" ry="2.8"/>
<ellipse cx="1488" cy="540.3" rx="2.5" ry="1" fill="none" stroke-width="0.9"/>
</g>
<!-- L / N wires -->
<g fill="none" stroke="#0a0a0a" stroke-width="1.2" stroke-linejoin="round">
<path d="M1547.3,593.4 C1570,590 1595,585 1619,579.3 C1650,570 1680,557 1704,548.3"/>
<path d="M1548.2,602.3 C1572,599 1600,594 1628,588.1 C1655,580 1680,566 1704,557.1"/>
<path d="M1704,548.3 L1704,557.1"/>
<path d="M1546.5,593 L1546.5,603 M1549,592.5 L1549,602"/>
<path d="M1546.5,594.5 L1519,596.5 C1517,596.8 1517,600.5 1519,600.5 L1546.5,599.8"/>
<path d="M1557.3,607 C1580,601.5 1605,594 1631.8,588.1 C1660,582 1685,577 1704,573.8"/>
<path d="M1558.4,615.6 C1580,610 1605,603 1631.8,597.3 C1660,591 1685,586 1704,583.5"/>
<path d="M1704,574 L1704,582.8"/>
<path d="M1555.5,606 L1555.5,616 M1558,605.5 L1558,615.5"/>
<path d="M1555.5,608 L1529,612.5 C1527,613 1527,617 1529,616.8 L1555.5,613"/>
</g>

<!-- ===== lower driver ===== -->
<g fill="none" stroke="#0a0a0a" stroke-width="1.3" stroke-linejoin="round">
<!-- cable left -->
<path d="M1056,876 C1075,876.5 1095,875.5 1110.8,873.5 C1140,868 1165,859 1192.3,850.5"/>
<path d="M1057.7,884.1 C1078,884 1098,884 1117.9,882.4 C1145,877 1172,866 1197.6,857.6"/>
<!-- box outline -->
<path d="M1210.4,772.7 L1521.6,731.9 C1528,733 1532,735 1534,738 C1540,744 1545,750 1548,755 C1556,768 1562,782 1566.8,795.6"/>
<path d="M1210.4,772.7 L1210.4,785.3 L1190.9,788.2 L1190.9,796.8"/>
<path d="M1190.9,788.2 L1191.5,843.75 L1214.4,887.3"/>
<path d="M1192.6,799 C1194,812 1205,835 1215.5,855.8"/>
<path d="M1215.5,855.8 L1551,811.6"/>
<path d="M1215.5,888.4 L1542,840.8"/>
<path d="M1215.5,855.8 L1215.5,888.4"/>
<path d="M1215.5,855.8 L1215.5,888.4" stroke-width="1.9"/>
<path d="M1192.6,799 L1251,791.6 L1270.5,846"/>
<path d="M1196,847 L1198,858 M1194,856 L1200,861" stroke-width="1.1"/>
<!-- right end -->
<path d="M1566.8,795.6 L1549,799 L1551,811.6"/>
<path d="M1566.8,795.6 L1558,820 L1557,838 L1542,840.8"/>
<path d="M1549,822 C1545,822 1545,829 1549,829 L1552,837 L1557,838" stroke-width="1.1"/>
<path d="M1549,799 C1545,800 1546,806 1550,806" stroke-width="1.1"/>
<!-- cover plate right -->
<path d="M1476.5,741.6 L1521.7,734.5 L1562.4,785 L1505.7,792.1 Z"/>
<!-- dividers -->
<path d="M1275.7,764.7 L1306.6,843.2" stroke-width="1.6" stroke-dasharray="2 0.8"/>
<path d="M1443.75,742.5 L1486.25,817.8" stroke-width="1.6" stroke-dasharray="2 0.8"/>
<!-- small labels -->
<path d="M1256.5,798.5 L1264,797.3 M1260.5,794 L1260,802" stroke-width="1.2"/>
<circle cx="1267.1" cy="807.1" r="1.7" stroke-width="1.1"/>
<circle cx="1275.1" cy="826.6" r="1.7" stroke-width="1.1"/>
<path d="M1269,806.5 L1269.4,802.5 L1283.1,804.7 L1290,822 M1277,826 L1277.4,824.3 L1290,821.5 M1278,833 L1281,840" stroke-width="1.1"/>
<path d="M1462,745.5 L1467,744.5 L1469,751 M1471.5,755.5 L1476,754.5 L1478,759.5 L1473.5,760.5 Z M1483,773 L1487.5,772 L1489.5,777 L1485,778 Z M1488,783 L1494,781.5 L1490,788 L1496,786.5" stroke-width="1.2"/>
<!-- right wires -->
<path d="M1552.7,762 C1575,757 1600,750 1628,741.6 C1655,732 1680,722 1704,714.2"/>
<path d="M1560.6,771.7 C1585,766 1605,759 1628,751.4 C1655,742 1680,733 1704,725.7"/>
<path d="M1704,714.2 L1704,725.7"/>
<path d="M1561.5,777 C1585,772 1605,766 1628,761 C1655,755 1680,750 1704,747"/>
<path d="M1565,786.8 C1590,782 1610,777 1628,772 C1655,766 1680,762 1704,760.2"/>
<path d="M1704,747 L1704,760.2"/>
</g>
<g fill="#fff" stroke="#0a0a0a" stroke-width="1.3">
<path d="M1192.6,799 L1251,791.6 L1270.5,846 L1215.5,855.8 C1205,835 1194,812 1192.6,799 Z" fill="none"/>
</g>
<g fill="#111">
<path d="M1287,821 L1292,820 L1300,843 L1294.5,844.5 Z"/>
<path d="M1460.5,758 L1464,757 L1478,780.5 L1474.5,781.5 Z"/>
<rect x="1455" y="764" width="2" height="6" transform="rotate(-30 1456 767)"/>
</g>
<!-- screws on lower driver -->
<g fill="#0a0a0a">
<circle cx="1220" cy="804.2" r="5.6"/>
<circle cx="1233.3" cy="843.2" r="5.6"/>
<circle cx="1511" cy="745.2" r="4.9"/>
<circle cx="1532.3" cy="779.7" r="4.9"/>
</g>
<g fill="none" stroke="#fff" stroke-width="1">
<circle cx="1220.3" cy="804.5" r="2.8"/>
<circle cx="1233.6" cy="843.5" r="2.8"/>
<circle cx="1511.3" cy="745.5" r="2.4"/>
<circle cx="1532.6" cy="780" r="2.4"/>
</g>
<text x="0" y="0" transform="translate(1349.5,802.3) rotate(-7) scale(1.16,1.13) skewX(18)" font-family="Liberation Sans" font-weight="bold" font-size="21" fill="#fff" stroke="#000" stroke-width="1.25">Driver</text>
<g fill="none" stroke="#0a0a0a" stroke-width="1.4">
<rect x="1167" y="1260.6" width="343" height="44"/>
<path d="M1188.1,1305.5 V1334.5 M1191.1,1305.5 V1334.5"/>
<path d="M1336.3,1305.5 V1334.5 M1339.3,1305.5 V1334.5"/>
<path d="M1485.4,1305.5 V1334.5 M1488.4,1305.5 V1334.5"/>
<rect x="1184" y="1334.5" width="10.7" height="33.4"/>
<rect x="1332.7" y="1334.5" width="10.7" height="33.4"/>
<rect x="1481.8" y="1334.5" width="10.7" height="33.4"/>
<!-- bracket under block -->
<path d="M1168.7,1095.2 H1506 M1170.4,1097.6 H1504.4" stroke-width="1.1"/>
<path d="M1167.2,1095.2 V1118.5 C1167.2,1119.6 1170.4,1119.6 1170.4,1118.5 V1097.6" stroke-width="1.2"/>
<path d="M1506,1095.2 V1118.5 C1506,1119.6 1502.8,1119.6 1502.8,1118.5 V1097.6" stroke-width="1.2"/>
<!-- cable -->
<path d="M1289.5,1096 C1284,1112 1276,1130 1274.5,1145 C1273,1160 1277,1168 1290,1174 C1305,1181 1320,1186 1335,1195 C1350,1204 1362,1215 1369,1230 C1374,1242 1377,1252 1379,1261"/>
<path d="M1293,1096 C1287,1112 1279.5,1130 1278,1145 C1276.5,1158 1280,1165.5 1292,1171 C1307,1178 1322,1183 1338,1192.5 C1353,1201.5 1365.5,1213 1372.5,1228.5 C1377.5,1240 1380.5,1251 1382.5,1261"/>
</g>
<path d="M1138.4,1305.5 H1539.5" stroke="#0a0a0a" stroke-width="2.2"/>
<g fill="#fff" stroke="#0a0a0a" stroke-width="1">
<rect x="1181" y="1306" width="17.5" height="2.5" rx="1"/>
<rect x="1330" y="1306" width="17" height="2.5" rx="1"/>
<rect x="1479" y="1306" width="17" height="2.5" rx="1"/>
</g>
<!-- big up arrow -->
<path d="M1211,1227.8 V1193.6 H1203.3 L1215.3,1163.7 L1228,1193.6 H1219.5 V1227.8 Z" fill="#111"/>
<!-- screws on sides -->
<path d="M1136.5,1273 C1135.5,1277 1135.5,1282 1136.5,1286 L1139.5,1286 L1139.5,1283 L1152,1283 L1152,1277 L1139.5,1277 L1139.5,1273 Z" fill="#111"/>
<path d="M1534.3,1273 C1535.3,1277 1535.3,1282 1534.3,1286 L1531.3,1286 L1531.3,1283 L1519.4,1283 L1519.4,1277 L1531.3,1277 L1531.3,1273 Z" fill="#111"/>
<use href="#rotH" x="1081.8" y="1281.7"/>
<use href="#rotH" x="1603" y="1281.7" transform="translate(3206.6,0) scale(-1,1)"/>
<rect x="913.5" y="986" width="791.7" height="108.3" fill="url(#stone)" stroke="#0a0a0a" stroke-width="1.5"/>
</svg>
<div class="t" style="left:244px;top:320px;font-size:67.25px;-webkit-text-stroke:0.4px #000;">Assembly Instructions / Instrucciones De Montaje</div>
<div class="t" style="left:868px;top:423px;font-size:25px;-webkit-text-stroke:0.25px #000;transform:scaleX(1.037);transform-origin:0 0;">AC220-240V 50/60Hz</div>
<div class="t" style="left:168.5px;top:702.3px;font-size:24px;">250MM</div>
<div class="t" style="left:348.1px;top:615px;font-size:24px;transform:rotate(-90deg);transform-origin:0 0;">250MM</div>
<div class="t" style="left:802px;top:949.2px;font-size:39.5px;">1</div>
<div class="t" style="left:1862.9px;top:949.2px;font-size:39.5px;">3</div>
<div class="t" style="left:802.9px;top:1552.5px;font-size:39.5px;">2</div>
<div class="t" style="left:1864px;top:1552.5px;font-size:39.5px;">4</div>
<div class="t" style="left:1521px;top:562px;font-size:30.5px;">L</div>
<div class="t" style="left:1540px;top:621px;font-size:30.5px;">N</div>
</body></html>
